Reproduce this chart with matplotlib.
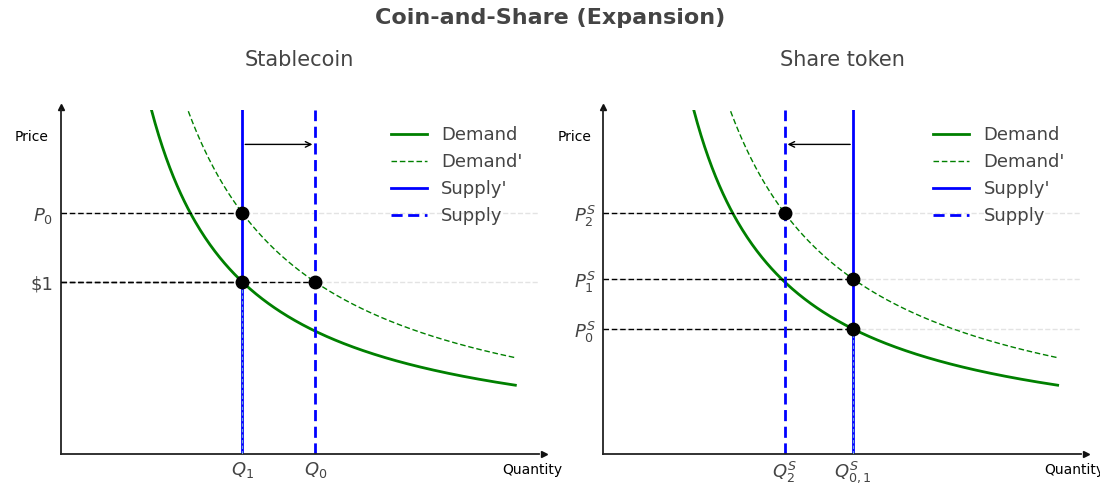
import matplotlib.pyplot as plt
import numpy as np

# 数据
q_curve = np.linspace(0.5, 2.5, 300)
k_demand = 1.0      # Demand: P = k/Q
k_demand2 = 1.4     # Demand': P = k/Q

# Stablecoin
stable_q_supply_new = 1.0   # Supply' (Q1)
stable_q_supply_old = 1.4   # Supply (Q0)
stable_yticks = [1.0, 1.4]
stable_ylabels = ["$1", "$P_0$"]
stable_xticks = [1.0, 1.4]
stable_xlabels = ["$Q_1$", "$Q_0$"]
stable_points = [(1.0, 1.0), (1.4, 1.0), (1.0, 1.4)]
stable_base = (1.0, 1.0)

# Share token
share_q_supply_new = 1.375  # Supply' (Q0,1)
share_q_supply_old = 1.0    # Supply (Q2)
share_yticks = [1 / 1.375, 1.4 / 1.375, 1.4]
share_ylabels = ["$P_0^S$", "$P_1^S$", "$P_2^S$"]
share_xticks = [1.0, 1.375]
share_xlabels = ["$Q_2^S$", "$Q_{0,1}^S$"]
share_points = [(1.375, 1 / 1.375), (1.375, 1.4 / 1.375), (1.0, 1.4)]
share_base = (1.375, 1 / 1.375)

txt = "#444444"
plt.rcParams['text.color'] = txt

fig = plt.figure(figsize=(11, 5), dpi=100)
ax1 = fig.add_axes([0.055, 0.092, 0.435, 0.688])
ax2 = fig.add_axes([0.548, 0.092, 0.435, 0.688])


def draw(ax, title, q_new, q_old, yticks, ylabels, xticks, xlabels, points, base, arrow_from, arrow_to):
    ax.plot(q_curve, k_demand / q_curve, color="green", lw=2, label="Demand")
    ax.plot(q_curve, k_demand2 / q_curve, color="green", lw=1, ls=(0, (4, 2)), label="Demand'")
    ax.axvline(q_new, color="blue", lw=2, label="Supply'")
    ax.axvline(q_old, color="blue", lw=2, ls=(0, (4, 2)), label="Supply")

    # 虚线参考线
    for (qx, py) in points:
        ax.plot([0, qx], [py, py], color="black", lw=1, ls=(0, (4, 2)), zorder=3)
    ax.plot([base[0], base[0]], [0, base[1]], color="#6fa8dc", lw=0.8, ls=(0, (3, 2)), zorder=3)
    px = [p[0] for p in points]
    py = [p[1] for p in points]
    ax.plot(px, py, "o", color="black", ms=9, zorder=5)

    ax.annotate("", xy=(arrow_to, 1.8), xytext=(arrow_from, 1.8),
                arrowprops=dict(arrowstyle="->", color="black", lw=1))

    ax.set_xlim(0, 2.63)
    ax.set_ylim(0, 2.0)
    ax.set_yticks(yticks)
    ax.set_yticklabels(ylabels, fontsize=13, color=txt)
    ax.set_xticks(xticks)
    ax.set_xticklabels(xlabels, fontsize=13, color=txt)
    ax.tick_params(length=0, pad=4)
    ax.tick_params(axis="y", pad=5)
    ax.grid(axis="y", ls="--", color="#dddddd", lw=1, alpha=0.8)

    # 移动坐标轴
    ax.spines['right'].set_color('none')
    ax.spines['top'].set_color('none')
    ax.spines['left'].set_color('#222222')
    ax.spines['bottom'].set_color('#222222')
    ax.spines['left'].set_linewidth(1.3)
    ax.spines['bottom'].set_linewidth(1.3)
    ax.plot(1.01, 0, ">", color="#111111", ms=5, transform=ax.transAxes, clip_on=False)
    ax.plot(0, 1.01, "^", color="#111111", ms=5, transform=ax.transAxes, clip_on=False)

    ax.set_ylabel("Price", rotation=0, fontsize=10, color="black")
    ax.yaxis.set_label_coords(-0.06, 0.90)
    ax.set_xlabel("Quantity", fontsize=10, color="black")
    ax.xaxis.set_label_coords(0.985, -0.025)
    ax.xaxis.label.set_va("top")

    ax.set_title(title, fontsize=15, color=txt, pad=32)
    ax.legend(loc="upper right", frameon=False, fontsize=13, handlelength=2.0,
              bbox_to_anchor=(1.0, 1.0), labelspacing=0.5)


draw(ax1, "Stablecoin", stable_q_supply_new, stable_q_supply_old, stable_yticks, stable_ylabels,
     stable_xticks, stable_xlabels, stable_points, stable_base, 1.0, 1.4)
draw(ax2, "Share token", share_q_supply_new, share_q_supply_old, share_yticks, share_ylabels,
     share_xticks, share_xlabels, share_points, share_base, 1.375, 1.0)

fig.suptitle("Coin-and-Share (Expansion)", fontsize=16, fontweight="bold", color=txt, y=0.985)

fig.savefig("out.png")
